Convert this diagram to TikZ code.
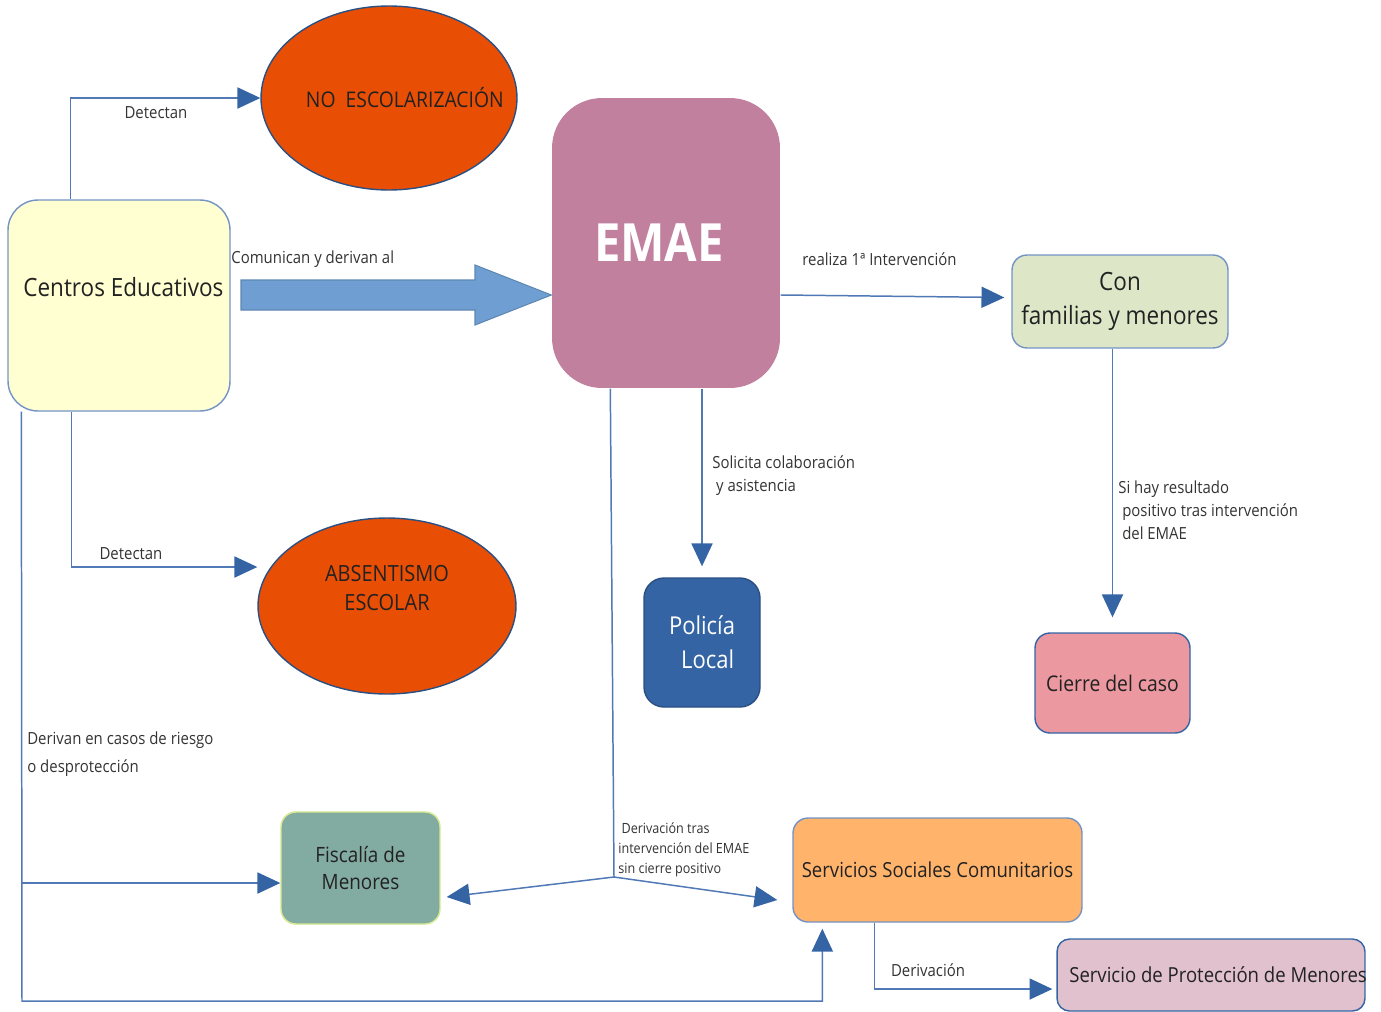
\documentclass[tikz,border=0pt]{standalone}
\usepackage{fontspec}
\setmainfont{Open Sans}[FakeStretch=0.895]
\usetikzlibrary{shapes.geometric,arrows.meta}
\definecolor{lnblue}{HTML}{5079B6}
\definecolor{tipblue}{HTML}{3464A4}
\definecolor{boxline}{HTML}{7393C4}
\definecolor{txt}{HTML}{222222}
\definecolor{lbltxt}{HTML}{333333}
\definecolor{centroscol}{HTML}{FFFFD2}
\definecolor{escol}{HTML}{E94E05}
\definecolor{emaecol}{HTML}{C0809E}
\definecolor{arrowcol}{HTML}{6F9FD2}
\definecolor{concol}{HTML}{DDE7C8}
\definecolor{cierrecol}{HTML}{EB98A0}
\definecolor{policol}{HTML}{3464A4}
\definecolor{fiscol}{HTML}{82ABA2}
\definecolor{fisline}{HTML}{D4E88C}
\definecolor{sscol}{HTML}{FFB36B}
\definecolor{protcol}{HTML}{E0C1CD}

\begin{document}
\begin{tikzpicture}[
    x=0.02cm, y=-0.02cm,
    box/.style = {draw=boxline, line width=0.8pt, rounded corners=0.3cm,
                  align=center, inner sep=2pt, text=txt},
    oval/.style = {ellipse, draw=tipblue!80!black, fill=escol, line width=0.8pt,
                   align=center, inner sep=0pt, text=txt,
                   font=\fontsize{12.7}{16.4}\selectfont},
    line/.style = {draw=lnblue, line width=0.85pt},
    conn/.style = {line, -{Triangle[length=13pt,width=12pt,color=tipblue]}},
    lbl/.style = {anchor=west, align=left, inner sep=0pt, text=lbltxt,
                  font=\fontsize{9.5}{13}\selectfont},
    bigarrow/.style = {draw=arrowcol!85!black, fill=arrowcol, line width=0.6pt},
  ]
  \useasboundingbox (0,0) rectangle (1381,1011);

  % nodes
  \node[box, fill=centroscol, rounded corners=0.6cm, minimum width=4.44cm,
        minimum height=4.22cm, text depth=21pt,
        font=\fontsize{14.3}{18}\selectfont] (centros) at (119,305.5)
        {\hspace*{5pt}Centros Educativos};
  \node[oval, minimum width=5.12cm, minimum height=3.68cm, inner xsep=-18pt,
        font=\fontsize{12.3}{16}\selectfont] (noesc) at (389,98)
        {\hspace*{18pt}NO\ \ ESCOLARIZACIÓN};
  \node[oval, minimum width=5.16cm, minimum height=3.52cm, text depth=21pt]
        (absent) at (387,606) {ABSENTISMO\\ESCOLAR};
  \node[box, draw=none, fill=emaecol, rounded corners=1cm, minimum width=4.56cm,
        minimum height=5.8cm, text=white,
        font=\fontsize{30}{36}\bfseries\selectfont] (emae) at (666,243)
        {\hspace*{-8pt}EMAE};
  \node[box, fill=concol, minimum width=4.32cm, minimum height=1.86cm,
        font=\fontsize{14.3}{19.3}\selectfont] (con) at (1120,301.5)
        {Con\\familias y menores};
  \node[box, draw=tipblue, fill=cierrecol, minimum width=3.1cm, minimum height=2cm,
        font=\fontsize{12.3}{16}\selectfont] (cierre) at (1112.5,683) {Cierre del caso};
  \node[box, draw=policol!80!black, fill=policol, rounded corners=0.4cm,
        minimum width=2.32cm, minimum height=2.58cm, text=white,
        font=\fontsize{14}{19.3}\selectfont] (policia) at (702,642.5) {Policía\\\ \ Local};
  \node[box, draw=fisline, fill=fiscol, minimum width=3.18cm, minimum height=2.24cm,
        font=\fontsize{12}{15.9}\selectfont] (fiscalia) at (360.5,868) {Fiscalía de\\Menores};
  \node[box, fill=sscol, minimum width=5.78cm, minimum height=2.08cm,
        font=\fontsize{11.8}{15}\selectfont] (servicios) at (937.5,870)
        {Servicios Sociales Comunitarios};
  \node[box, draw=tipblue, fill=protcol, rounded corners=0.25cm, minimum width=6.16cm,
        minimum height=1.44cm, inner xsep=-2pt,
        font=\fontsize{11.8}{15}\selectfont] (proteccion) at (1211,975)
        {\hspace*{8pt}Servicio de Protección de Menores};

  % big arrow into EMAE
  \draw[bigarrow] (241,280) -- (475,280) -- (475,265) -- (emae.west |- 0,295)
    -- (475,325) -- (475,310) -- (241,310) -- cycle;

  % connectors
  \coordinate (bottomleft) at (22,1001);
  \coordinate (riesgo) at (22,883);
  \coordinate (split) at (614,877);

  \draw[conn] ([xshift=1.26cm]centros.north west) |- (noesc.west);
  \draw[conn] ([xshift=1.28cm]centros.south west) |- (absent.west |- 0,567);
  \draw[conn] ([xshift=0.28cm]centros.south west) -- (bottomleft)
    -| ([xshift=0.6cm,yshift=-0.12cm]servicios.south west);
  \draw[conn] (riesgo) -- (riesgo -| fiscalia.west);
  \draw[line] ([xshift=1.18cm]emae.south west) -- (split);
  \draw[conn] (split) -- ([shift={(6,29)}]fiscalia.east);
  \draw[conn] (split) -- ([shift={(-15,30)}]servicios.west);
  \draw[conn] (policia.north |- emae.south) -- ([yshift=0.22cm]policia.north);
  \draw[conn] ([yshift=-1.04cm]emae.east) -- ([shift={(-7,-4)}]con.west);
  \draw[conn] (cierre.north |- con.south) -- ([yshift=0.3cm]cierre.north);
  \draw[conn] ([xshift=1.64cm]servicios.south west) |- ([shift={(-4,14)}]proteccion.west);

  % labels
  \node[lbl, anchor=center] (det1) at (156,113) {Detectan};
  \node[lbl] (comunican) at (231,259) {Comunican y derivan al};
  \node[lbl] (realiza) at (802,259) {realiza 1ª Intervención};
  \node[lbl] (solicita) at (712,476) {Solicita colaboración\\\ y asistencia};
  \node[lbl] (sihay) at (1118,510) {Si hay resultado\\\ positivo tras intervención\\\ del EMAE};
  \node[lbl, anchor=center] (det2) at (131,554) {Detectan};
  \node[lbl, font=\fontsize{9.5}{15.9}\selectfont] (derivan) at (27,754)
    {Derivan en casos de riesgo\\o desprotección};
  \node[lbl, font=\fontsize{8}{11.3}\selectfont] (trasemae) at (618,850)
    {\ Derivación tras\\intervención del EMAE\\sin cierre positivo};
  \node[lbl, anchor=center] (derivacion) at (928,970) {Derivación};
\end{tikzpicture}
\end{document}
